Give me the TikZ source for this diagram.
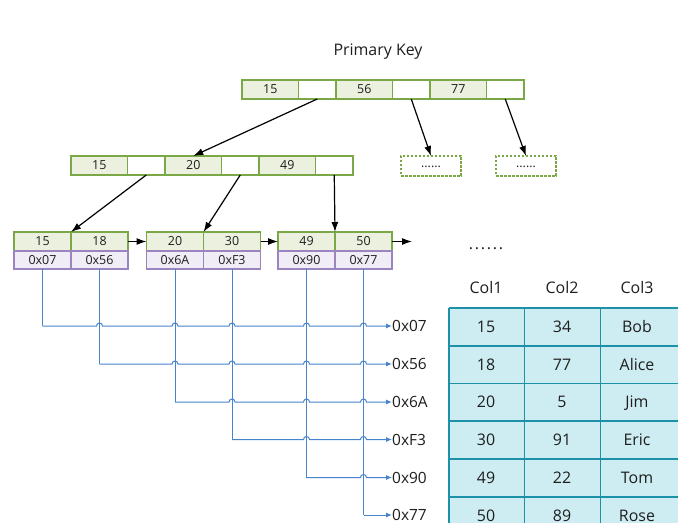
\documentclass[tikz,border=0pt]{standalone}
\usepackage{fontspec}
\setmainfont{Open Sans}
\usetikzlibrary{arrows.meta}
\definecolor{gborder}{RGB}{122,168,70}
\definecolor{gfill}{RGB}{235,241,222}
\definecolor{pborder}{RGB}{155,133,192}
\definecolor{pfill}{RGB}{241,237,246}
\definecolor{bline}{RGB}{70,132,205}
\definecolor{tborder}{RGB}{28,145,168}
\definecolor{tfill}{RGB}{206,237,242}
\definecolor{txt}{RGB}{30,30,30}
\tikzset{
  cellbase/.style={draw, line width=1.3bp, inner sep=0pt, outer sep=0pt,
    minimum height=19bp, font=\fontsize{12.5}{15}\selectfont, text=txt,
    text height=9bp, text depth=0pt, anchor=west},
  keycell/.style={cellbase, draw=gborder, fill=gfill, minimum width=56.5bp},
  ptrcell/.style={cellbase, draw=gborder, fill=white, minimum width=37.5bp},
  leafkey/.style={cellbase, draw=gborder, fill=gfill, minimum width=57bp},
  leafaddr/.style={cellbase, draw=pborder, fill=pfill, minimum width=57bp, minimum height=18bp},
  morebox/.style={cellbase, anchor=center, draw=gborder, dash pattern=on 2.5bp off 1.5bp,
    minimum width=60bp, minimum height=20bp, text height=3bp},
  tree/.style={-{Latex[length=10bp,width=7bp]}, line width=1.2bp, black},
  addr/.style={line width=1bp, draw=bline},
  addrtip/.style={-{Latex[length=6bp,width=5bp]}},
  addrlabel/.style={anchor=west, inner sep=0pt, font=\fontsize{15.5}{18}\selectfont,
    text=txt, text height=11bp, text depth=0pt},
  ttext/.style={inner sep=0pt, font=\fontsize{16}{19}\selectfont, text=txt,
    text height=11.4bp, text depth=0pt},
}
\begin{document}
\begin{tikzpicture}[x=1bp, y=-1bp]
\useasboundingbox (0,0) rectangle (678,527);
\fill[white] (0,0) rectangle (678,527);

% title
\node[inner sep=0pt, anchor=base, font=\fontsize{16}{19}\selectfont, text=txt] (title) at (378,56) {Primary Key};

% root
\node[keycell] (r1) at (242,89.5) {15};
\node[ptrcell] (r2) at (r1.east) {};
\node[keycell] (r3) at (r2.east) {56};
\node[ptrcell] (r4) at (r3.east) {};
\node[keycell] (r5) at (r4.east) {77};
\node[ptrcell] (r6) at (r5.east) {};

% middle
\node[keycell] (m1) at (71,165.5) {15};
\node[ptrcell] (m2) at (m1.east) {};
\node[keycell] (m3) at (m2.east) {20};
\node[ptrcell] (m4) at (m3.east) {};
\node[keycell] (m5) at (m4.east) {49};
\node[ptrcell] (m6) at (m5.east) {};

% dotted boxes
\node[morebox] (d1) at (431,166) {......};
\node[morebox] (d2) at (526,166) {......};

% leaves
\node[leafkey] (l1a) at (14,241.5) {15};
\node[leafkey] (l1b) at (l1a.east) {18};
\node[leafaddr, anchor=north west] (p1) at (l1a.south west) {0x07};
\node[leafaddr, anchor=north west] (p2) at (l1b.south west) {0x56};

\node[leafkey] (l2a) at (146.5,241.5) {20};
\node[leafkey] (l2b) at (l2a.east) {30};
\node[leafaddr, anchor=north west] (p3) at (l2a.south west) {0x6A};
\node[leafaddr, anchor=north west] (p4) at (l2b.south west) {0xF3};

\node[leafkey] (l3a) at (278,241.5) {49};
\node[leafkey] (l3b) at (l3a.east) {50};
\node[leafaddr, anchor=north west] (p5) at (l3a.south west) {0x90};
\node[leafaddr, anchor=north west] (p6) at (l3b.south west) {0x77};

\coordinate (lend) at (412,241.5);

% tree arrows
\draw[tree] (r2.south) -- (m3.north);
\draw[tree] (r4.south) -- (d1.north);
\draw[tree] (r6.south) -- (d2.north);
\draw[tree] (m2.south) -- (l1b.north west);
\draw[tree] (m4.south) -- (l2b.north west);
\draw[tree] (m6.south) -- (l3b.north west);
\draw[tree] (l1b.east) -- (l2a.west);
\draw[tree] (l2b.east) -- (l3a.west);
\draw[tree] (l3b.east) -- (lend);

% more
\node[inner sep=0pt, anchor=base, font=\fontsize{16}{19}\selectfont, text=txt] (dots) at (486,249.5)
  {.\kern1.8bp.\kern1.8bp.\kern1.8bp.\kern1.8bp.\kern1.8bp.};

% address labels
\node[addrlabel] (t1) at (392,326) {0x07};
\node[addrlabel] (t2) at (392,364) {0x56};
\node[addrlabel] (t3) at (392,402) {0x6A};
\node[addrlabel] (t4) at (392,439.5) {0xF3};
\node[addrlabel] (t5) at (392,477.5) {0x90};
\node[addrlabel] (t6) at (392,515) {0x77};

% vertical address lines
\draw[addr] (p1.south) -- (p1.south |- t1.west);
\draw[addr] (p2.south) -- (p2.south |- t2.west);
\draw[addr] (p3.south) -- (p3.south |- t3.west);
\draw[addr] (p4.south) -- (p4.south |- t4.west);
\draw[addr] (p5.south) -- (p5.south |- t5.west);
\draw[addr] (p6.south) -- (p6.south |- t6.west);

% horizontal address lines with hops
\draw[addr, addrtip] (p1.south |- t1.west)
  -- (96.5,326) arc[start angle=180, end angle=0, radius=3bp]
  -- (172,326) arc[start angle=180, end angle=0, radius=3bp]
  -- (229,326) arc[start angle=180, end angle=0, radius=3bp]
  -- (303.5,326) arc[start angle=180, end angle=0, radius=3bp]
  -- (360.5,326) arc[start angle=180, end angle=0, radius=3bp]
  -- (t1.west);
\draw[addr, addrtip] (p2.south |- t2.west)
  -- (172,364) arc[start angle=180, end angle=0, radius=3bp]
  -- (229,364) arc[start angle=180, end angle=0, radius=3bp]
  -- (303.5,364) arc[start angle=180, end angle=0, radius=3bp]
  -- (360.5,364) arc[start angle=180, end angle=0, radius=3bp]
  -- (t2.west);
\draw[addr, addrtip] (p3.south |- t3.west)
  -- (229,402) arc[start angle=180, end angle=0, radius=3bp]
  -- (303.5,402) arc[start angle=180, end angle=0, radius=3bp]
  -- (360.5,402) arc[start angle=180, end angle=0, radius=3bp]
  -- (t3.west);
\draw[addr, addrtip] (p4.south |- t4.west)
  -- (303.5,439.5) arc[start angle=180, end angle=0, radius=3bp]
  -- (360.5,439.5) arc[start angle=180, end angle=0, radius=3bp]
  -- (t4.west);
\draw[addr, addrtip] (p5.south |- t5.west)
  -- (360.5,477.5) arc[start angle=180, end angle=0, radius=3bp]
  -- (t5.west);
\draw[addr, addrtip] (p6.south |- t6.west) -- (t6.west);

% table headers
\node[ttext] (h1) at (486,288) {Col1};
\node[ttext] (h2) at (562,288) {Col2};
\node[ttext] (h3) at (637,288) {Col3};

% table body (clipped like the reference)
\begin{scope}
\clip (440,300) rectangle (678,522);
\fill[tfill] (449,308) rectangle (690,540);
\draw[tborder, line width=1.5bp]
  (449,308) -- (690,308)
  (449,346) -- (690,346)
  (449,383.5) -- (690,383.5)
  (449,421) -- (690,421)
  (449,459) -- (690,459)
  (449,497) -- (690,497)
  (449,308) -- (449,540)
  (524.5,308) -- (524.5,540)
  (600.5,308) -- (600.5,540);
\end{scope}

\node[ttext] (c11) at (486,327) {15};
\node[ttext] (c12) at (562,327) {34};
\node[ttext] (c13) at (637,327) {Bob};
\node[ttext] (c21) at (486,364.5) {18};
\node[ttext] (c22) at (562,364.5) {77};
\node[ttext] (c23) at (637,364.5) {Alice};
\node[ttext] (c31) at (486,402) {20};
\node[ttext] (c32) at (562,402) {5};
\node[ttext] (c33) at (637,402) {Jim};
\node[ttext] (c41) at (486,440) {30};
\node[ttext] (c42) at (562,440) {91};
\node[ttext] (c43) at (637,440) {Eric};
\node[ttext] (c51) at (486,478) {49};
\node[ttext] (c52) at (562,478) {22};
\node[ttext] (c53) at (637,478) {Tom};
\node[ttext] (c61) at (486,516) {50};
\node[ttext] (c62) at (562,516) {89};
\node[ttext] (c63) at (637,516) {Rose};
\end{tikzpicture}
\end{document}
